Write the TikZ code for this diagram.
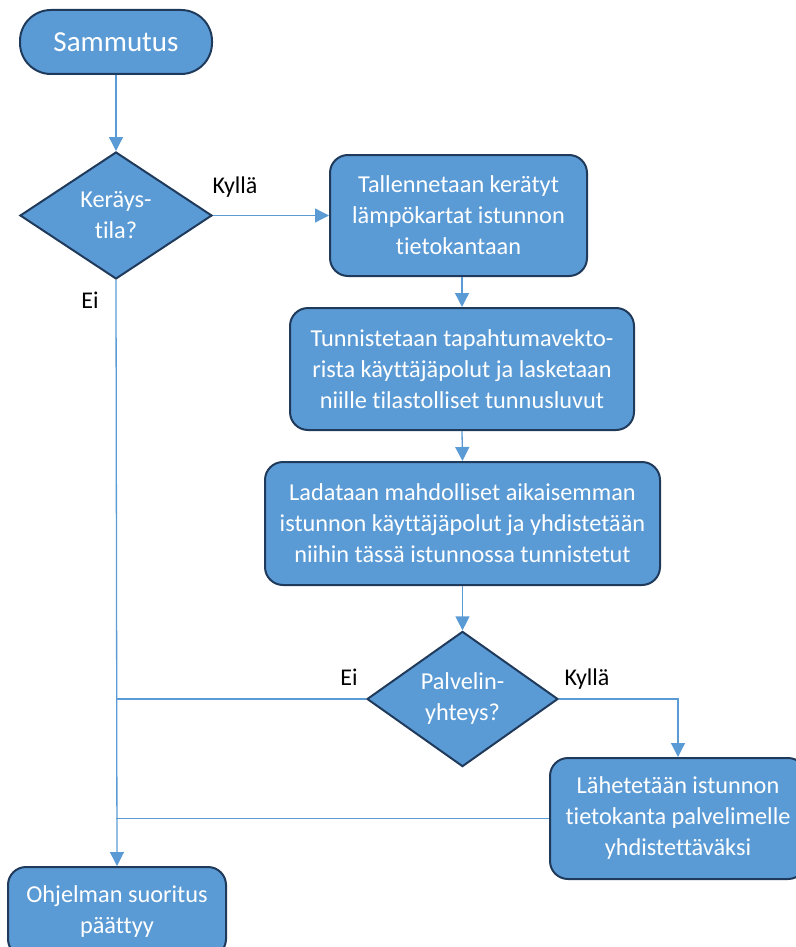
\documentclass[tikz,border=0pt]{standalone}
\usepackage{fontspec}
\setmainfont[Ligatures=CommonOff]{Carlito}
\usetikzlibrary{shapes.geometric,arrows.meta}
\definecolor{fillb}{HTML}{5B9BD5}
\definecolor{edgeb}{HTML}{203A5C}
\definecolor{lineb}{HTML}{5B9BD5}
\tikzset{
  procbox/.style={draw=edgeb, line width=2pt, fill=fillb, rounded corners=18pt, text=white,
    align=center, font=\fontsize{24.3}{31}\selectfont, inner sep=0pt},
  decbox/.style={draw=edgeb, line width=2pt, fill=fillb, shape=diamond, text=white,
    align=center, font=\fontsize{24.3}{31}\selectfont, inner sep=0pt},
  conn/.style={draw=lineb, line width=1.3pt},
  arr/.style={conn, -{Triangle[width=14pt,length=14pt]}},
  lbl/.style={font=\fontsize{24}{28}\selectfont, text=black, inner sep=0pt}
}
\begin{document}
\begin{tikzpicture}[x=1pt,y=-1pt]
\useasboundingbox (0,0) rectangle (795,947);
\node[procbox, rounded corners=31pt, minimum width=192pt, minimum height=64pt,
  font=\fontsize{29}{31}\selectfont] (s) at (116,42) {Sammutus};
\node[decbox, minimum width=192pt, minimum height=127pt] (d1) at (116,215.5) {Keräys-\\tila?};
\node[procbox, minimum width=257pt, minimum height=121pt] (b1) at (458.5,215.5)
  {Tallennetaan kerätyt\\lämpökartat istunnon\\tietokantaan};
\node[procbox, minimum width=344pt, minimum height=122pt] (b2) at (462,369)
  {Tunnistetaan tapahtumavekto-\\rista käyttäjäpolut ja lasketaan\\niille tilastolliset tunnusluvut};
\node[procbox, minimum width=395pt, minimum height=123pt] (b3) at (462.5,523.5)
  {Ladataan mahdolliset aikaisemman\\istunnon käyttäjäpolut ja yhdistetään\\niihin tässä istunnossa tunnistetut};
\node[decbox, minimum width=191pt, minimum height=128pt] (d2) at (462.5,699) {Palvelin-\\yhteys?};
\node[procbox, minimum width=256pt, minimum height=121pt] (b4) at (678,818.5)
  {Lähetetään istunnon\\tietokanta palvelimelle\\yhdistettäväksi};
\node[procbox, minimum width=218pt, minimum height=90pt] (e) at (117,912)
  {Ohjelman suoritus\\päättyy};
\coordinate (j1) at (d2.west -| d1.south);
\coordinate (j2) at (b4.west -| d1.south);
\draw[arr] (s.south) -- (d1.north);
\draw[arr] (d1.east) -- (b1.west);
\draw[arr] (b2.north |- b1.south) -- (b2.north);
\draw[arr] (b2.south) -- (b3.north);
\draw[arr] (b3.south) -- (d2.north);
\draw[conn] (d2.west) -- (j1);
\draw[arr] (d2.east) -| (b4.north);
\draw[conn] (b4.west) -- (j2);
\draw[arr] (d1.south) -- (e.north);
\node[lbl] (k1) at (235,187) {Kyllä};
\node[lbl] (e1) at (90,300) {Ei};
\node[lbl] (e2) at (349,677) {Ei};
\node[lbl] (k2) at (587,679) {Kyllä};
\end{tikzpicture}
\end{document}
